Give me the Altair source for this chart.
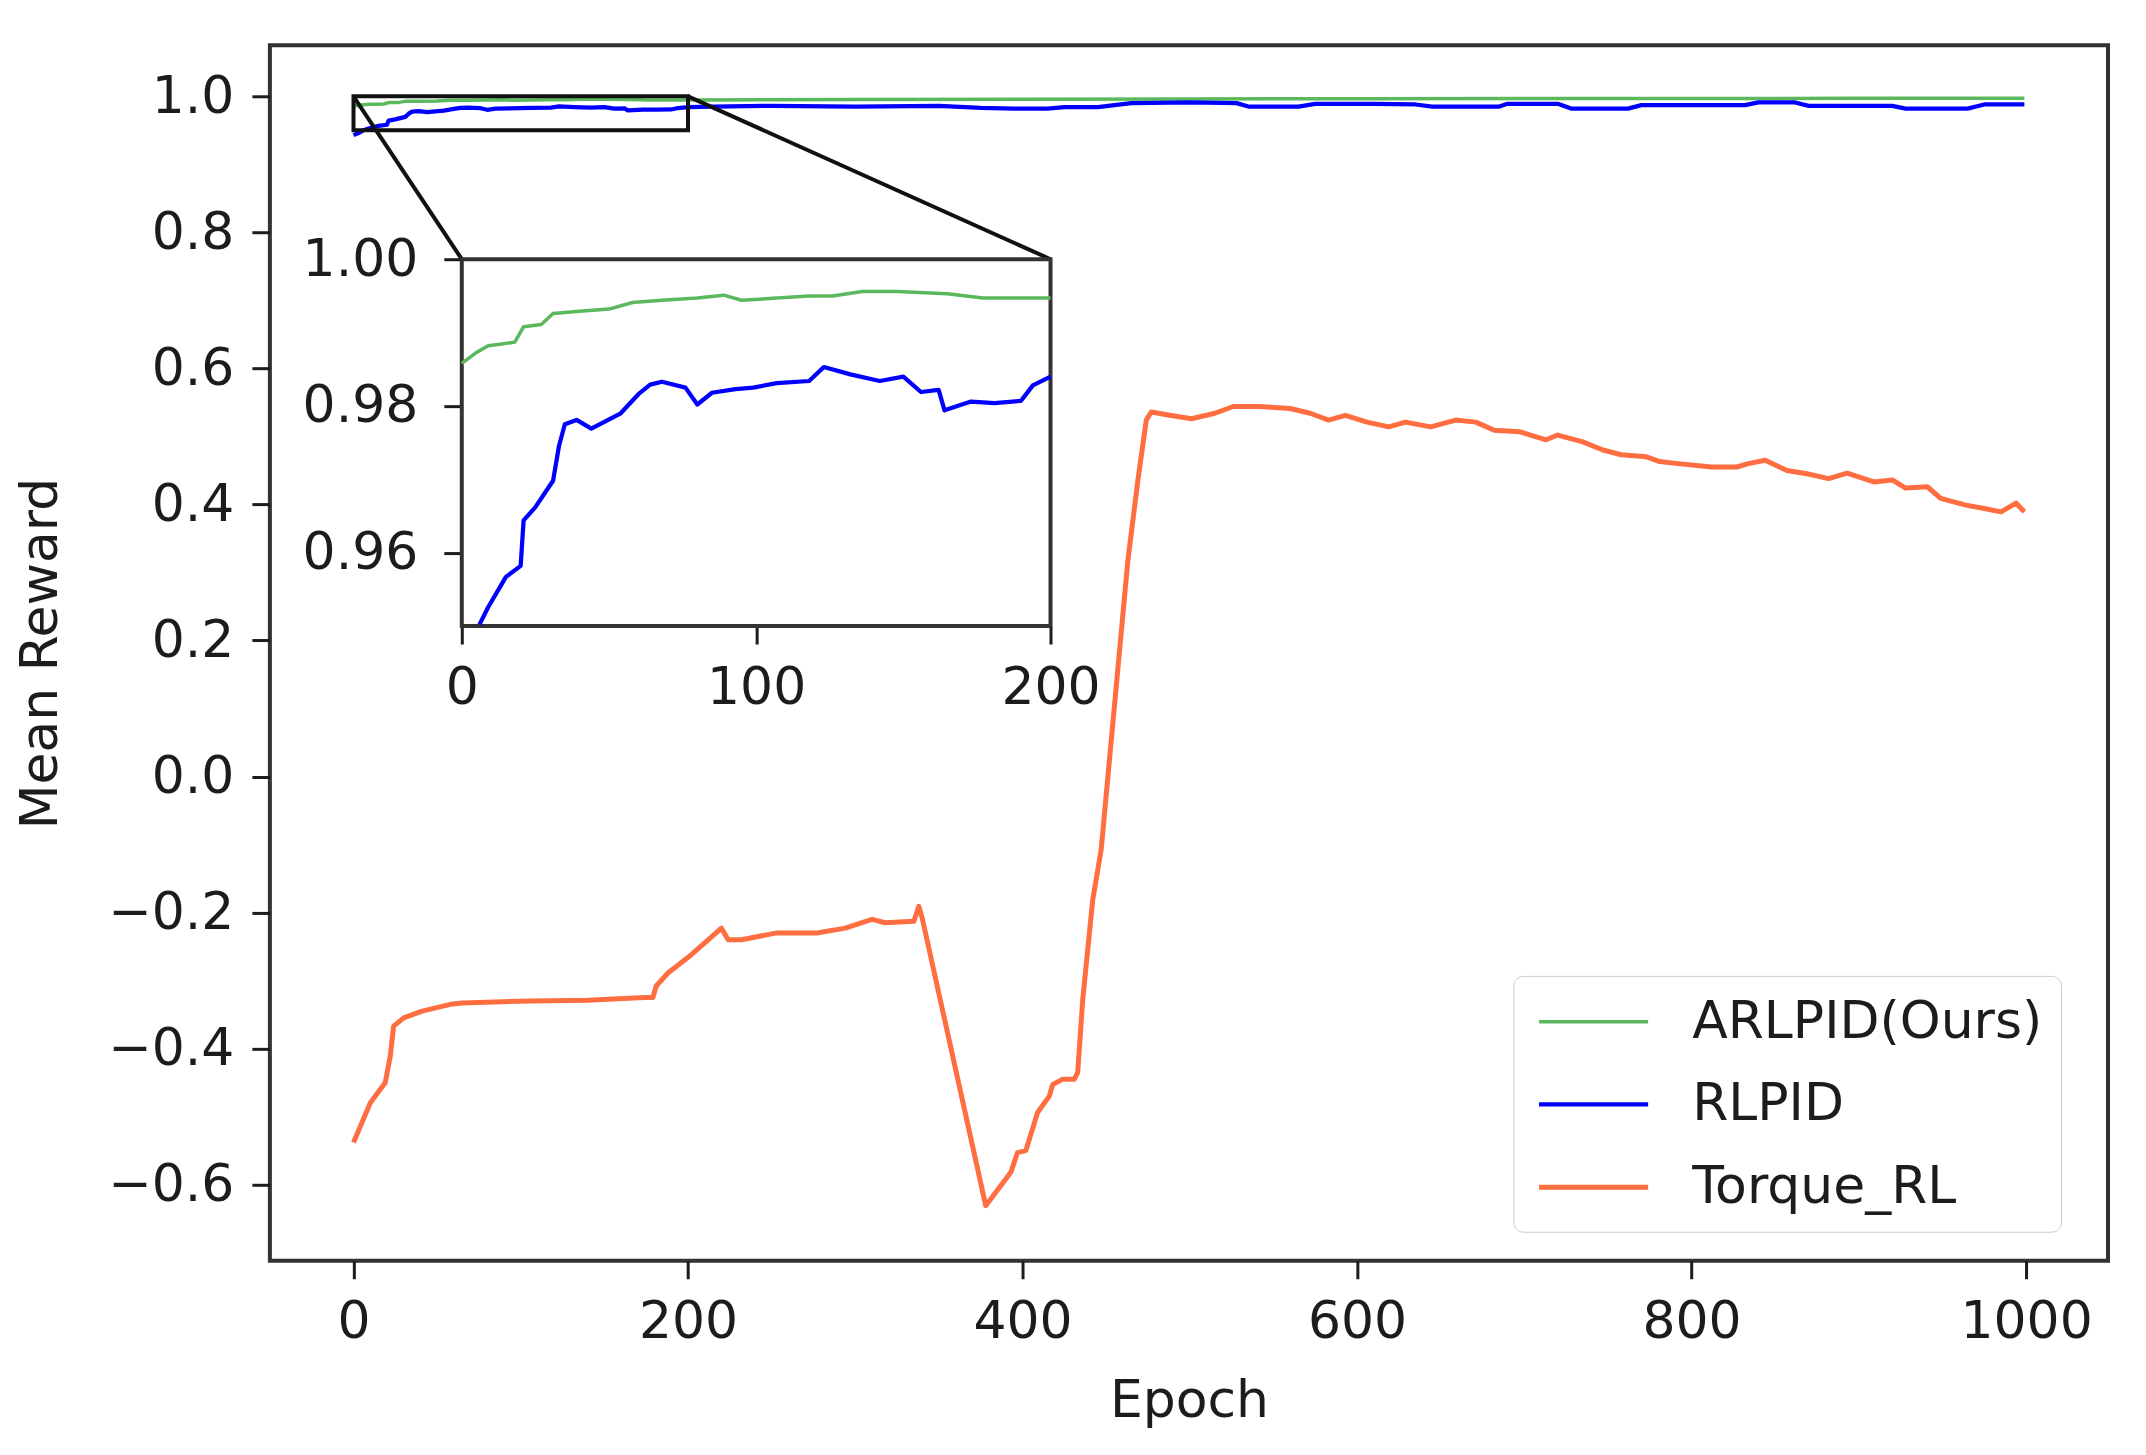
import altair as alt
import pandas as pd

# ---------------- data ----------------
methods = ["ARLPID(Ours)", "RLPID", "Torque_RL"]
colors = ["#5cb85c", "#0000ff", "#ff6e40"]
line_widths = [3.5, 5, 3.5]

arlpid_epoch = [0, 5, 9, 13, 18, 21, 27, 31, 40, 50, 58, 68, 80, 89, 95, 107, 118, 126,
                136, 148, 165, 177, 200, 300, 400, 500, 600, 700, 800, 900, 999]
arlpid_reward = [0.9858, 0.9873, 0.9882, 0.9884, 0.9887, 0.9908, 0.9911, 0.9926, 0.9929,
                 0.9932, 0.9941, 0.9944, 0.9947, 0.9951, 0.9944, 0.9947, 0.9950, 0.9950,
                 0.9956, 0.9956, 0.9953, 0.9947, 0.9947, 0.9952, 0.9958, 0.9962, 0.9965,
                 0.9967, 0.9968, 0.9970, 0.9971]

rlpid_epoch = [0, 3, 6, 9, 15, 20, 21, 25, 31, 33, 35, 39, 44, 54, 60, 64, 68, 76, 80, 85,
               93, 99, 107, 118, 123, 132, 142, 150, 156, 162, 164, 173, 181, 190, 194, 200,
               215, 250, 300, 350, 375, 395, 415, 425, 445, 465, 500, 528, 535, 565, 575,
               610, 635, 645, 685, 690, 720, 728, 762, 770, 832, 840, 862, 870, 920, 928,
               965, 975, 999]
rlpid_reward = [0.943, 0.946, 0.9502, 0.9526, 0.9567, 0.9582, 0.9644, 0.9662, 0.9698, 0.9745,
                0.9775, 0.9781, 0.9769, 0.9790, 0.9816, 0.9829, 0.9833, 0.9825, 0.9802,
                0.9818, 0.9823, 0.9825, 0.9831, 0.9834, 0.9853, 0.9843, 0.9834, 0.9840,
                0.9819, 0.9822, 0.9794, 0.9806, 0.9804, 0.9807, 0.9828, 0.9840,
                0.985, 0.986, 0.985, 0.986, 0.983, 0.982, 0.982, 0.984, 0.984, 0.990, 0.991,
                0.990, 0.985, 0.985, 0.989, 0.989, 0.988, 0.985, 0.985, 0.989, 0.989, 0.982,
                0.982, 0.987, 0.987, 0.991, 0.991, 0.986, 0.986, 0.982, 0.982, 0.988, 0.988]

torque_epoch = [0, 10, 19, 22, 24, 30, 41, 58, 65, 106, 140, 174, 179, 181, 188, 202, 220,
                224, 232, 253, 277, 294, 310, 318, 335, 338, 340, 378, 393, 397, 402, 409,
                416, 418, 424, 431, 433, 436, 442, 447, 463, 469, 474, 477, 488, 501, 515,
                526, 541, 560, 572, 583, 593, 606, 619, 629, 644, 659, 671, 682, 697, 713,
                720, 735, 747, 758, 773, 781, 792, 812, 827, 834, 844, 857, 869, 882, 893,
                909, 920, 928, 941, 949, 964, 975, 985, 994, 999]
torque_reward = [-0.538, -0.480, -0.450, -0.411, -0.367, -0.355, -0.345, -0.335, -0.333,
                 -0.330, -0.329, -0.325, -0.325, -0.308, -0.289, -0.262, -0.223, -0.240,
                 -0.240, -0.230, -0.230, -0.223, -0.210, -0.215, -0.213, -0.191, -0.208,
                 -0.631, -0.582, -0.553, -0.550, -0.494, -0.470, -0.453, -0.445, -0.445,
                 -0.435, -0.328, -0.181, -0.108, 0.318, 0.436, 0.524, 0.536, 0.531, 0.526,
                 0.534, 0.544, 0.544, 0.541, 0.534, 0.524, 0.531, 0.521, 0.514, 0.521,
                 0.514, 0.524, 0.521, 0.509, 0.507, 0.495, 0.502, 0.492, 0.480, 0.473,
                 0.470, 0.463, 0.460, 0.455, 0.455, 0.460, 0.465, 0.450, 0.445, 0.438,
                 0.446, 0.433, 0.436, 0.424, 0.426, 0.409, 0.399, 0.394, 0.389, 0.402,
                 0.389]

x_ticks = [0, 200, 400, 600, 800, 1000]
y_ticks = [-0.6, -0.4, -0.2, 0.0, 0.2, 0.4, 0.6, 0.8, 1.0]
inset_x_ticks = [0, 100, 200]
inset_y_ticks = [0.96, 0.98, 1.00]
zoom_x = [0, 200]
zoom_y = [0.95, 1.00]

series = [(methods[0], arlpid_epoch, arlpid_reward),
          (methods[1], rlpid_epoch, rlpid_reward),
          (methods[2], torque_epoch, torque_reward)]
rows = []
for name, ep, rw in series:
    assert len(ep) == len(rw), name
    for e, r in zip(ep, rw):
        rows.append({"epoch": e, "reward": r, "method": name})
df = pd.DataFrame(rows)

# ---------------- layout ----------------
W, H = 1839, 1216
X_DOMAIN = [-50, 1049]
Y_DOMAIN = [-0.712, 1.075]
INSET_PX_X = [192, 781]      # pixel span of the inset inside the plot area
INSET_PX_Y = [581, 214]      # bottom, top
FONT = "DejaVu Sans"
FS = 52
INK = "#1c1c1c"

color_scale = alt.Scale(domain=methods, range=colors)
width_scale = alt.Scale(domain=methods, range=line_widths)
xs = alt.Scale(domain=X_DOMAIN, nice=False, zero=False)
ys = alt.Scale(domain=Y_DOMAIN, nice=False, zero=False)
ixs = alt.Scale(domain=zoom_x, range=INSET_PX_X, nice=False, zero=False)
iys = alt.Scale(domain=zoom_y, range=INSET_PX_Y, nice=False, zero=False)

legend = alt.Legend(
    title=None, orient="none", legendX=1244, legendY=931,
    fillColor="white", strokeColor="#cccccc", cornerRadius=10,
    padding=18, labelFont=FONT, labelFontSize=FS, labelColor=INK, labelLimit=800,
    symbolType="M-0.8,0H3.4", symbolSize=2704, symbolStrokeWidth=5,
    labelOffset=104, rowPadding=28,
)

main_lines = alt.Chart(df).mark_line(strokeJoin="round").encode(
    x=alt.X("epoch:Q", scale=xs,
            axis=alt.Axis(values=x_ticks, title="Epoch", format="d", titlePadding=28)),
    y=alt.Y("reward:Q", scale=ys,
            axis=alt.Axis(values=y_ticks, title="Mean Reward", format=".1f", titlePadding=40)),
    color=alt.Color("method:N", scale=color_scale, legend=legend),
    strokeWidth=alt.StrokeWidth("method:N", scale=width_scale, legend=None),
)

zoom_df = pd.DataFrame({"epoch": [zoom_x[0]], "epoch2": [zoom_x[1]],
                        "reward": [zoom_y[0]], "reward2": [zoom_y[1]]})
zoom_box = alt.Chart(zoom_df).mark_rect(filled=False, stroke="#111111", strokeWidth=4).encode(
    x=alt.X("epoch:Q", scale=xs), x2="epoch2:Q",
    y=alt.Y("reward:Q", scale=ys), y2="reward2:Q",
)

corner_left = pd.DataFrame({"epoch": [zoom_x[0]], "reward": [zoom_y[1]]})
corner_right = pd.DataFrame({"epoch": [zoom_x[1]], "reward": [zoom_y[1]]})
conn1 = alt.Chart(corner_left).mark_rule(color="#111111", strokeWidth=4).encode(
    x=alt.X("epoch:Q", scale=xs), y=alt.Y("reward:Q", scale=ys),
    x2=alt.value(INSET_PX_X[0]), y2=alt.value(INSET_PX_Y[1]),
)
conn2 = alt.Chart(corner_right).mark_rule(color="#111111", strokeWidth=4).encode(
    x=alt.X("epoch:Q", scale=xs), y=alt.Y("reward:Q", scale=ys),
    x2=alt.value(INSET_PX_X[1]), y2=alt.value(INSET_PX_Y[1]),
)

main = alt.layer(main_lines, zoom_box, conn1, conn2)

inset_axis_x = alt.Axis(values=inset_x_ticks, orient="bottom", offset=INSET_PX_Y[0] - H,
                        format="d", title=None, labelFlush=False)
inset_axis_y = alt.Axis(values=inset_y_ticks, orient="left", offset=-INSET_PX_X[0],
                        format=".2f", title=None, labelPadding=26, labelFlush=False)

inset_bg = alt.Chart(zoom_df).mark_rect(fill="white", stroke="#333333", strokeWidth=4).encode(
    x=alt.X("epoch:Q", scale=ixs, axis=inset_axis_x), x2="epoch2:Q",
    y=alt.Y("reward:Q", scale=iys, axis=inset_axis_y), y2="reward2:Q",
)
inset_lines = alt.Chart(df).transform_filter(
    (alt.datum.epoch <= zoom_x[1]) & (alt.datum.reward >= zoom_y[0])
).mark_line(strokeJoin="round").encode(
    x=alt.X("epoch:Q", scale=ixs, axis=inset_axis_x),
    y=alt.Y("reward:Q", scale=iys, axis=inset_axis_y),
    color=alt.Color("method:N", scale=color_scale, legend=legend),
    strokeWidth=alt.StrokeWidth("method:N", scale=width_scale, legend=None),
)
inset = alt.layer(inset_bg, inset_lines)

chart = alt.layer(main, inset).resolve_scale(
    x="independent", y="independent"
).resolve_axis(
    x="independent", y="independent"
).properties(
    width=W, height=H,
    autosize=alt.AutoSizeParams(type="none"),
    padding={"left": 262, "top": 37, "right": 30, "bottom": 180},
).configure_view(
    stroke="#333333", strokeWidth=4
).configure_axis(
    grid=False, domain=False,
    labelFont=FONT, labelFontSize=FS, labelColor=INK,
    tickColor=INK, tickWidth=3, tickSize=18, labelPadding=18,
    titleFont=FONT, titleFontSize=FS, titleFontWeight="normal", titleColor=INK,
)

chart.save("out.html", embed_options={"renderer": "svg", "actions": False})
